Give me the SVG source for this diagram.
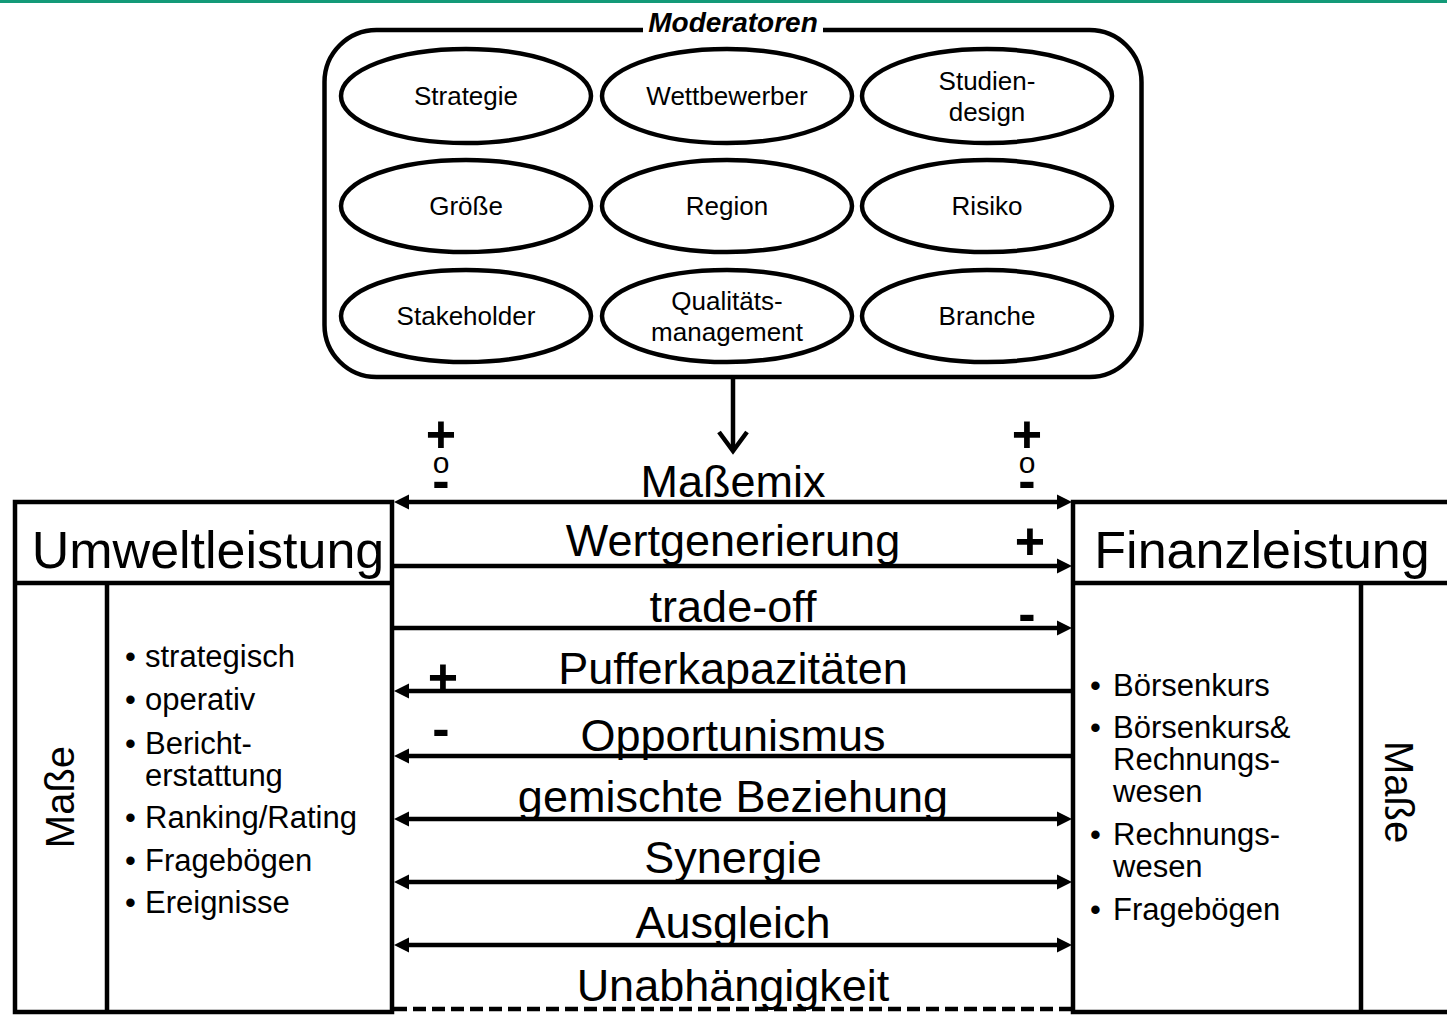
<svg xmlns="http://www.w3.org/2000/svg" width="1447" height="1015" viewBox="0 0 1447 1015">
<defs>
<marker id="ah" viewBox="0 -8 16 16" refX="0" refY="0" markerWidth="16" markerHeight="16" markerUnits="userSpaceOnUse" orient="auto-start-reverse">
<path d="M0,-7.5 L15,0 L0,7.5 z" fill="#000"/>
</marker>
<style>
text{font-family:"Liberation Sans",Arial,sans-serif;fill:#000}
.ell{fill:#fff;stroke:#000;stroke-width:4.5}
.el{font-size:26px;text-anchor:middle}
.lab{font-size:45px;text-anchor:middle}
.hd{font-size:52px;text-anchor:middle}
.bl{font-size:31px}
.conn{stroke:#000;stroke-width:4.5;fill:none}
.box{fill:#fff;stroke:#000;stroke-width:4.5}
.sgn{font-size:52px;font-weight:bold;text-anchor:middle}
.o{font-size:30px;font-weight:normal}
</style>
</defs>
<rect x="0" y="0" width="1447" height="1015" fill="#fff"/>
<rect x="0" y="0" width="1447" height="3" fill="#139a78"/>

<g id="moderatoren">
<rect x="324.5" y="30" width="817" height="347" rx="52" ry="52" fill="#fff" stroke="#000" stroke-width="4.5"/>
<rect x="643" y="20" width="180" height="16" fill="#fff"/>
<text x="733" y="32" font-size="28" font-weight="bold" font-style="italic" text-anchor="middle">Moderatoren</text>
</g>

<g id="m-strategie"><ellipse class="ell" cx="466" cy="96" rx="125" ry="47"/><text class="el" x="466" y="105">Strategie</text></g>
<g id="m-wettbewerber"><ellipse class="ell" cx="727" cy="96" rx="125" ry="47"/><text class="el" x="727" y="105">Wettbewerber</text></g>
<g id="m-studiendesign"><ellipse class="ell" cx="987" cy="96" rx="125" ry="47"/><text class="el" x="987" y="90">Studien-</text><text class="el" x="987" y="121">design</text></g>
<g id="m-groesse"><ellipse class="ell" cx="466" cy="206" rx="125" ry="46"/><text class="el" x="466" y="215">Größe</text></g>
<g id="m-region"><ellipse class="ell" cx="727" cy="206" rx="125" ry="46"/><text class="el" x="727" y="215">Region</text></g>
<g id="m-risiko"><ellipse class="ell" cx="987" cy="206" rx="125" ry="46"/><text class="el" x="987" y="215">Risiko</text></g>
<g id="m-stakeholder"><ellipse class="ell" cx="466" cy="316" rx="125" ry="46"/><text class="el" x="466" y="325">Stakeholder</text></g>
<g id="m-qualitaet"><ellipse class="ell" cx="727" cy="316" rx="125" ry="46"/><text class="el" x="727" y="310">Qualitäts-</text><text class="el" x="727" y="341">management</text></g>
<g id="m-branche"><ellipse class="ell" cx="987" cy="316" rx="125" ry="46"/><text class="el" x="987" y="325">Branche</text></g>

<g id="umweltleistung">
<rect class="box" x="15" y="502" width="377" height="510"/>
<line x1="15" y1="583" x2="392" y2="583" stroke="#000" stroke-width="4.5"/>
<line x1="107" y1="583" x2="107" y2="1012" stroke="#000" stroke-width="4.5"/>
<text class="hd" x="208" y="568">Umweltleistung</text>
<text font-size="40" text-anchor="middle" transform="translate(74,797) rotate(-90)">Maße</text>
<g class="bl">
<text x="125" y="667">•</text><text x="145" y="667">strategisch</text>
<text x="125" y="710">•</text><text x="145" y="710">operativ</text>
<text x="125" y="754">•</text><text x="145" y="754">Bericht-</text>
<text x="145" y="786">erstattung</text>
<text x="125" y="828">•</text><text x="145" y="828">Ranking/Rating</text>
<text x="125" y="871">•</text><text x="145" y="871">Fragebögen</text>
<text x="125" y="913">•</text><text x="145" y="913">Ereignisse</text>
</g>
</g>

<g id="finanzleistung">
<rect class="box" x="1073" y="502" width="390" height="510"/>
<line x1="1073" y1="583" x2="1447" y2="583" stroke="#000" stroke-width="4.5"/>
<line x1="1361" y1="583" x2="1361" y2="1012" stroke="#000" stroke-width="4.5"/>
<text class="hd" x="1262" y="568">Finanzleistung</text>
<text font-size="40" text-anchor="middle" transform="translate(1385,792) rotate(90)">Maße</text>
<g class="bl">
<text x="1090" y="696">•</text><text x="1113" y="696">Börsenkurs</text>
<text x="1090" y="738">•</text><text x="1113" y="738">Börsenkurs&amp;</text>
<text x="1113" y="770">Rechnungs-</text>
<text x="1113" y="802">wesen</text>
<text x="1090" y="845">•</text><text x="1113" y="845">Rechnungs-</text>
<text x="1113" y="877">wesen</text>
<text x="1090" y="920">•</text><text x="1113" y="920">Fragebögen</text>
</g>
</g>

<g id="connectors">
<path class="conn" d="M733,377 V448"/>
<path class="conn" d="M719,432 L733,451 L747,432"/>
<path class="conn" d="M409,502 H1057" marker-start="url(#ah)" marker-end="url(#ah)"/>
<path class="conn" d="M394,566 H1057" marker-end="url(#ah)"/>
<path class="conn" d="M394,628 H1057" marker-end="url(#ah)"/>
<path class="conn" d="M1071,691 H409" marker-end="url(#ah)"/>
<path class="conn" d="M1071,756 H409" marker-end="url(#ah)"/>
<path class="conn" d="M409,819 H1057" marker-start="url(#ah)" marker-end="url(#ah)"/>
<path class="conn" d="M409,882 H1057" marker-start="url(#ah)" marker-end="url(#ah)"/>
<path class="conn" d="M409,945 H1057" marker-start="url(#ah)" marker-end="url(#ah)"/>
<path class="conn" d="M394,1009 H1071" stroke-dasharray="13 6"/>
</g>

<g id="labels">
<text class="lab" x="733" y="497">Maßemix</text>
<text class="lab" x="733" y="556">Wertgenerierung</text>
<text class="lab" x="733" y="622">trade-off</text>
<text class="lab" x="733" y="684">Pufferkapazitäten</text>
<text class="lab" x="733" y="751">Opportunismus</text>
<text class="lab" x="733" y="812">gemischte Beziehung</text>
<text class="lab" x="733" y="873">Synergie</text>
<text class="lab" x="733" y="938">Ausgleich</text>
<text class="lab" x="733" y="1001">Unabhängigkeit</text>

<text class="sgn"><tspan x="441" y="452">+</tspan><tspan class="o" x="441" y="473">o</tspan><tspan x="441" y="498">-</tspan></text>
<text class="sgn"><tspan x="1027" y="452">+</tspan><tspan class="o" x="1027" y="473">o</tspan><tspan x="1027" y="498">-</tspan></text>
<text class="sgn" x="1030" y="559">+</text>
<text class="sgn" x="1027" y="631">-</text>
<text class="sgn" x="443" y="695">+</text>
<text class="sgn" x="441" y="746">-</text>
</g>
</svg>
